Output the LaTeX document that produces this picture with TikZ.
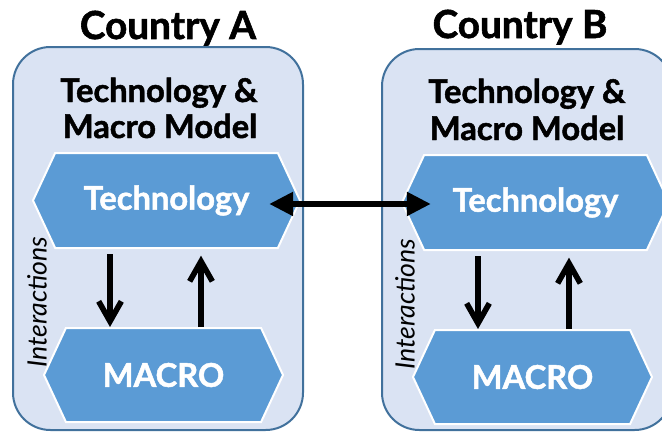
\documentclass[tikz,border=0pt]{standalone}
\usepackage{fontspec}
\setmainfont{Lato}[BoldFeatures={FakeBold=1.5}]
\usetikzlibrary{shapes.symbols,arrows.meta}

\definecolor{boxfill}{HTML}{DAE3F3}
\definecolor{boxline}{HTML}{41719C}
\definecolor{hexfill}{HTML}{5B9BD5}

\tikzset{
  country/.style={draw=boxline, fill=boxfill, line width=1.5pt, rounded corners=28pt},
  hexblock/.style={signal, signal to=east and west, signal pointer angle=130,
    draw=white, fill=hexfill, line width=1.5pt, text=white, inner sep=0pt,
    font=\bfseries\fontsize{24.5}{28}\selectfont},
  title/.style={anchor=base, font=\bfseries\fontsize{29}{33}\selectfont},
  model/.style={anchor=base, font=\bfseries\fontsize{24.5}{28}\selectfont},
  side/.style={rotate=90, font=\itshape\fontsize{20}{24}\selectfont},
  vert/.style={line width=4.2pt, -{Straight Barb[length=15pt,width=17pt]}},
  link/.style={line width=5.2pt, {Triangle[length=18pt,width=17pt]}-{Triangle[length=18pt,width=17pt]}}
}

\begin{document}
\begin{tikzpicture}[x=0.75pt,y=-0.75pt]
\useasboundingbox (0,0) rectangle (662,432);
\clip (0,0) rectangle (662,432);

% country A
\draw[country] (13,47) rectangle (303,430);
\node[title] (titleA) at (168,39) {Country A};
\node[model] (modelA1) at (159,102) {Technology \&};
\node[model] (modelA2) at (160,138) {Macro Model};
\node[hexblock, minimum width=267*0.75pt, minimum height=95*0.75pt] (techA) at (166.5,200.5) {Technology};
\node[hexblock, minimum width=239*0.75pt, minimum height=94*0.75pt] (macroA) at (163.5,375) {MACRO};
\node[side] (interA) at (37,302) {Interactions};

\draw[vert, shorten <=4pt] ([shift={(-56.5,0)}]techA.south) -- ([shift={(-53.5,0)}]macroA.north); %down
\draw[vert, shorten >=5pt] ([shift={(37.5,0)}]macroA.north) -- ([shift={(34.5,0)}]techA.south); %up

% country B
\draw[country] (382,49) rectangle (672,430);
\node[title] (titleB) at (520,38) {Country B};
\node[model] (modelB1) at (527,103) {Technology \&};
\node[model] (modelB2) at (527,140) {Macro Model};
\node[hexblock, minimum width=267*0.75pt, minimum height=95*0.75pt] (techB) at (535.5,202.5) {Technology};
\node[hexblock, minimum width=239*0.75pt, minimum height=94*0.75pt] (macroB) at (532.5,377) {MACRO};
\node[side] (interB) at (405,304) {Interactions};

\draw[vert, shorten <=4pt] ([shift={(-57.5,0)}]techB.south) -- ([shift={(-54.5,0)}]macroB.north); %down
\draw[vert, shorten >=5pt] ([shift={(36.5,0)}]macroB.north) -- ([shift={(33.5,0)}]techB.south); %up

% exchange between the two technology models
\draw[link, shorten <=-24pt, shorten >=-22.5pt] ([yshift=-2.6pt]techA.east) -- ([yshift=-2.6pt]techA.east -| techB.west);
\end{tikzpicture}
\end{document}
